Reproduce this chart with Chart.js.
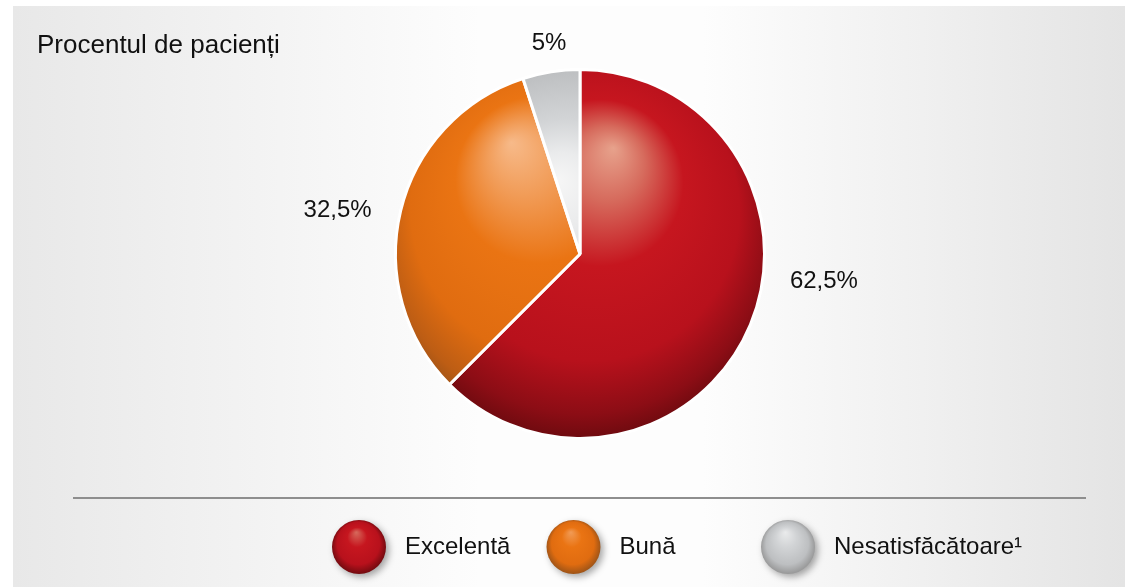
<!DOCTYPE html>
<html>
<head>
<meta charset="utf-8">
<script src="https://cdn.jsdelivr.net/npm/chart.js@4.4.1/dist/chart.umd.min.js"></script>
<style>
  html, body { margin: 0; padding: 0; background: #fff; }
  #wrap { width: 1125px; height: 587px; position: relative; }
</style>
</head>
<body>
<div id="wrap"><canvas id="chart"></canvas></div>
<script>
// chart data
const categories = ['Excelentă', 'Bună', 'Nesatisfăcătoare¹'];
const percentages = [62.5, 32.5, 5];
const valueLabels = ['62,5%', '32,5%', '5%'];
const chartTitle = 'Procentul de pacienți';

const FONT = '"Liberation Sans", Arial, Helvetica, sans-serif';

// shading per slice: highlight spot (relative to radius) and colour stops
const palette = [
    { hx: 0.18, hy: -0.57, stops: ['#e7a28c', '#d66a5c', '#c6161f', '#b8111c', '#8c0d15', '#680a0e'] },
    { hx: -0.37, hy: -0.6, stops: ['#f7ba8a', '#f19b56', '#ea7413', '#e06c10', '#bd5d14', '#945018'] },
    { hx: -0.12, hy: -0.4, stops: ['#f6f6f6', '#eaebec', '#d2d4d6', '#bdbfc1', '#a7a8a9', '#929292'] }
];
const stopPos = [0, 0.18, 0.4, 0.72, 0.9, 1];

function sliceFill(context) {
    const chart = context.chart;
    const a = chart.chartArea;
    const p = palette[context.dataIndex];
    if (!a) return p.stops[2];
    const cx = (a.left + a.right) / 2;
    const cy = (a.top + a.bottom) / 2;
    const r = Math.min(a.right - a.left, a.bottom - a.top) / 2;
    const g = chart.ctx.createRadialGradient(cx + p.hx * r, cy + p.hy * r, 0, cx, cy - 0.1 * r, r * 1.12);
    p.stops.forEach((c, i) => g.addColorStop(stopPos[i], c));
    return g;
}

function drawSphere(ctx, x, y, r, p) {
    ctx.save();
    ctx.shadowColor = 'rgba(0,0,0,0.35)';
    ctx.shadowBlur = 7;
    ctx.shadowOffsetX = 3;
    ctx.shadowOffsetY = 3;
    const g = ctx.createRadialGradient(x - r * 0.1, y - r * 0.55, 0, x, y, r * 1.05);
    g.addColorStop(0, p.stops[1]);
    g.addColorStop(0.35, p.stops[2]);
    g.addColorStop(0.75, p.stops[3]);
    g.addColorStop(1, p.stops[5]);
    ctx.fillStyle = g;
    ctx.beginPath();
    ctx.arc(x, y, r, 0, Math.PI * 2);
    ctx.fill();
    ctx.restore();
}

// background, title, value labels, divider and legend
const decorPlugin = {
    id: 'decor',
    beforeDraw(chart) {
        const ctx = chart.ctx;
        const w = chart.width, h = chart.height;
        ctx.save();
        ctx.fillStyle = '#ffffff';
        ctx.fillRect(0, 0, w, h);
        const g = ctx.createLinearGradient(13, 0, w, 0);
        g.addColorStop(0, '#e8e8e8');
        g.addColorStop(0.42, '#fdfdfd');
        g.addColorStop(0.62, '#fdfdfd');
        g.addColorStop(1, '#e4e4e4');
        ctx.fillStyle = g;
        ctx.fillRect(13, 6, w - 13, h - 6);
        ctx.restore();
    },
    afterDraw(chart, args, opts) {
        const ctx = chart.ctx;
        const arc = chart.getDatasetMeta(0).data[0];
        const cx = arc.x, cy = arc.y, r = arc.outerRadius;
        ctx.save();
        ctx.fillStyle = '#111';
        ctx.textBaseline = 'alphabetic';
        ctx.textAlign = 'left';
        ctx.font = '26px ' + FONT;
        ctx.fillText(chartTitle, 37, 53);

        ctx.font = '24px ' + FONT;
        ctx.textAlign = 'center';
        ctx.textBaseline = 'middle';
        valueLabels.forEach((t, i) => {
            const o = opts.labelPos[i];
            ctx.fillText(t, cx + o[0] * r, cy + o[1] * r);
        });

        // divider
        ctx.strokeStyle = '#8e8e8e';
        ctx.lineWidth = 2;
        ctx.beginPath();
        ctx.moveTo(73, 498);
        ctx.lineTo(1086, 498);
        ctx.stroke();

        // legend
        ctx.textAlign = 'left';
        categories.forEach((c, i) => {
            const x = opts.legendX + i * opts.legendStep;
            drawSphere(ctx, x, opts.legendY, 27, palette[i]);
            ctx.fillStyle = '#111';
            ctx.fillText(c, x + 46, opts.legendY);
        });
        ctx.restore();
    }
};

new Chart(document.getElementById('chart'), {
    type: 'pie',
    data: {
        labels: categories,
        datasets: [{
            data: percentages,
            backgroundColor: sliceFill,
            borderColor: '#ffffff',
            borderWidth: 3
        }]
    },
    options: {
        responsive: true,
        maintainAspectRatio: false,
        animation: false,
        events: [],
        layout: { padding: { top: 68, bottom: 147, left: 212, right: 177 } },
        plugins: {
            legend: { display: false },
            tooltip: { enabled: false },
            decor: {
                labelPos: [[1.322, 0.151], [-1.314, -0.238], [-0.168, -1.143]],
                legendX: 359,
                legendStep: 214.5,
                legendY: 547
            }
        }
    },
    plugins: [decorPlugin]
});
</script>
</body>
</html>
